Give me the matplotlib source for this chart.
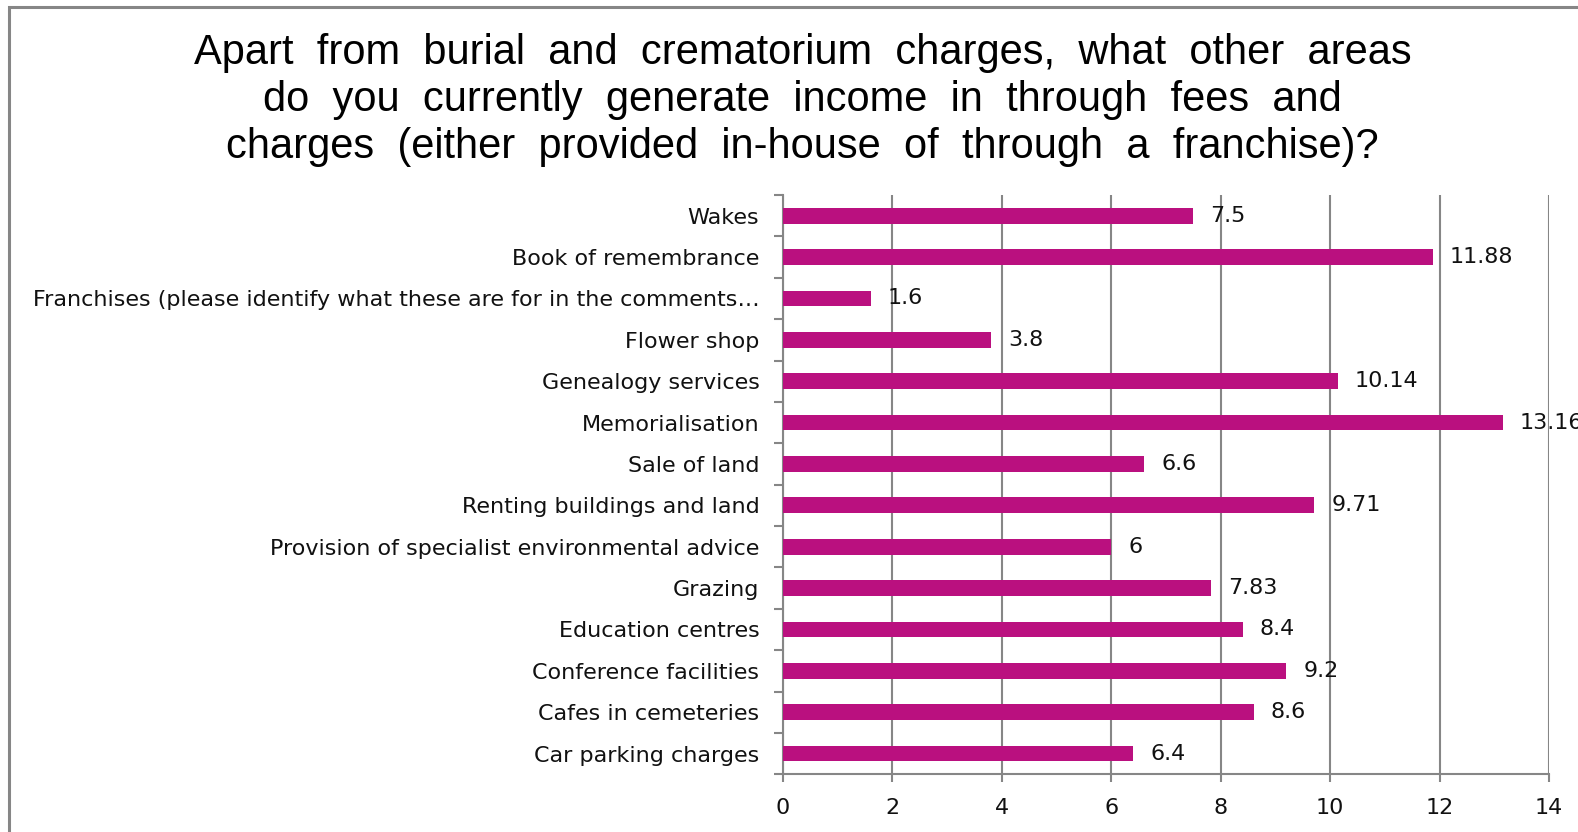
import matplotlib
matplotlib.use("Agg")
import matplotlib.pyplot as plt
from matplotlib.patches import Rectangle

categories = [
    "Wakes",
    "Book of remembrance",
    "Franchises (please identify what these are for in the comments\u2026",
    "Flower shop",
    "Genealogy services",
    "Memorialisation",
    "Sale of land",
    "Renting buildings and land",
    "Provision of specialist environmental advice",
    "Grazing",
    "Education centres",
    "Conference facilities",
    "Cafes in cemeteries",
    "Car parking charges",
]
values = [7.5, 11.88, 1.6, 3.8, 10.14, 13.16, 6.6, 9.71, 6, 7.83, 8.4, 9.2, 8.6, 6.4]
value_labels = ["7.5", "11.88", "1.6", "3.8", "10.14", "13.16", "6.6", "9.71", "6",
                "7.83", "8.4", "9.2", "8.6", "6.4"]
xticks = [0, 2, 4, 6, 8, 10, 12, 14]
title = ("Apart  from  burial  and  crematorium  charges,  what  other  areas\n"
         "do  you  currently  generate  income  in  through  fees  and\n"
         "charges  (either  provided  in-house  of  through  a  franchise)?")

W, H = 1578, 832
fig = plt.figure(figsize=(W / 100, H / 100), dpi=100)
ax = fig.add_axes([783 / W, 1 - 774.3 / H, (1549 - 783) / W, (774.3 - 195) / H])

grey = "#868686"
bar_color = "#BA107F"
lab_font = "DejaVu Sans"
fs = 16

n = len(categories)
ypos = list(range(n))
ax.barh(ypos, values, height=0.38, color=bar_color, zorder=3)
ax.set_ylim(n - 0.5, -0.5)
ax.set_xlim(0, 14)
ax.set_xticks(xticks)
ax.set_xticklabels([str(t) for t in xticks], fontfamily=lab_font, fontsize=fs, color="#111111")
ax.set_yticks([i - 0.5 for i in range(n + 1)], minor=False)
ax.set_yticklabels([])
ax.set_yticks(ypos, minor=True)
ax.set_yticklabels(categories, minor=True, fontfamily=lab_font, fontsize=fs, color="#111111")
ax.tick_params(axis="y", which="minor", length=0, pad=17)
ax.tick_params(axis="y", which="major", length=6.5, width=1.5, color=grey, direction="out")
ax.tick_params(axis="x", length=6, width=1.5, color=grey, direction="out", pad=11)

ax.grid(axis="x", color=grey, linewidth=1.5, zorder=0)
for s in ["top", "right"]:
    ax.spines[s].set_visible(False)
for s in ["left", "bottom"]:
    ax.spines[s].set_color(grey)
    ax.spines[s].set_linewidth(1.5)

for y, v, lab in zip(ypos, values, value_labels):
    ax.annotate(lab, (v, y), xytext=(17, 0), textcoords="offset pixels",
                va="center", ha="left", fontfamily=lab_font, fontsize=fs, color="#111111",
                annotation_clip=False, zorder=4)

fig.text(802.6 / W, 1 - 100 / H, title,
         ha="center", va="center", fontfamily="Liberation Sans", fontsize=30,
         linespacing=1.21)

fig.patches.append(Rectangle((9 / W, -0.5), 2.0, 1.5 - 7 / H, transform=fig.transFigure,
                             fill=False, edgecolor=grey, linewidth=2.2, zorder=0))

fig.savefig("out.png", dpi=100)
